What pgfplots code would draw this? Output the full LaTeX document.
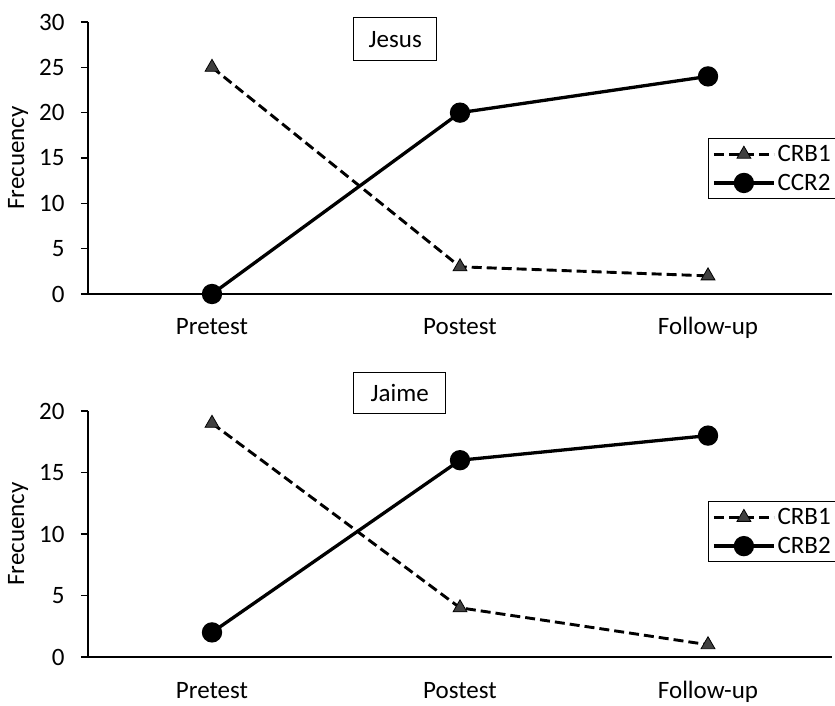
\documentclass[border=0pt]{standalone}
\usepackage{fontspec}
\setmainfont{Carlito}
\usepackage{pgfplots}
\pgfplotsset{compat=1.18}
\definecolor{trig}{RGB}{64,64,64}
\newcommand{\fs}{\fontsize{25}{29}\selectfont}
\pgfplotsset{
  mystyle/.style={
    scale only axis,
    width=744pt,
    xmin=-0.5, xmax=2.5,
    axis lines*=left,
    axis line style={line width=1.4pt},
    xtick={0,1,2},
    xticklabels={Pretest,Postest,Follow-up},
    x tick style={draw=none},
    tick align=outside,
    major tick length=7pt,
    y tick style={line width=1.4pt, black},
    tick label style={font=\fs},
    label style={font=\fs},
    /pgf/number format/assume math mode=true,
    xticklabel style={anchor=base, yshift=-34pt},
    yticklabel style={xshift=-13pt},
    ylabel style={at={(axis description cs:-0.094,0.5)}, anchor=center, rotate=0},
    ylabel={Frecuency},
    clip=false,
    legend cell align=left,
    legend style={draw=black, line width=1pt, font=\fs, anchor=north west, inner xsep=4pt, inner ysep=5pt, row sep=7pt},
    legend image code/.code={\draw[#1, mark repeat=2, mark phase=2] plot coordinates {(0pt,0pt) (30pt,0pt) (60pt,0pt)};},
  },
  crbone/.style={black, line width=2.9pt, dash pattern=on 10pt off 5pt, mark=triangle*, mark size=8pt, mark options={solid, fill=trig, draw=black, line width=0.8pt}},
  ccrtwo/.style={black, line width=3.3pt, solid, mark=*, mark size=8.5pt, mark options={solid, fill=black}},
}
\begin{document}
\begin{tikzpicture}
\path[use as bounding box] (0,0) rectangle (835pt,705pt);
\begin{axis}[mystyle, at={(88pt,411pt)}, anchor=south west, height=272pt,
  ymin=0, ymax=30, ytick={0,5,...,30},
  legend style={at={(axis description cs:0.833,0.574)}}]
\addplot[crbone] coordinates {(0,25) (1,3) (2,2)};
\addlegendentry{CRB1}
\addplot[ccrtwo] coordinates {(0,0) (1,20) (2,24)};
\addlegendentry{CCR2}
\node[draw=black, line width=1pt, minimum width=83pt, minimum height=43pt, font=\fs] at (axis description cs:0.413,0.936) {Jesus};
\end{axis}
\begin{axis}[mystyle, at={(88pt,48pt)}, anchor=south west, height=246pt,
  ymin=0, ymax=20, ytick={0,5,...,20},
  legend style={at={(axis description cs:0.833,0.634)}}]
\addplot[crbone] coordinates {(0,19) (1,4) (2,1)};
\addlegendentry{CRB1}
\addplot[ccrtwo] coordinates {(0,2) (1,16) (2,18)};
\addlegendentry{CRB2}
\node[draw=black, line width=1pt, minimum width=92pt, minimum height=41pt, font=\fs] at (axis description cs:0.419,1.075) {Jaime};
\end{axis}
\end{tikzpicture}
\end{document}
